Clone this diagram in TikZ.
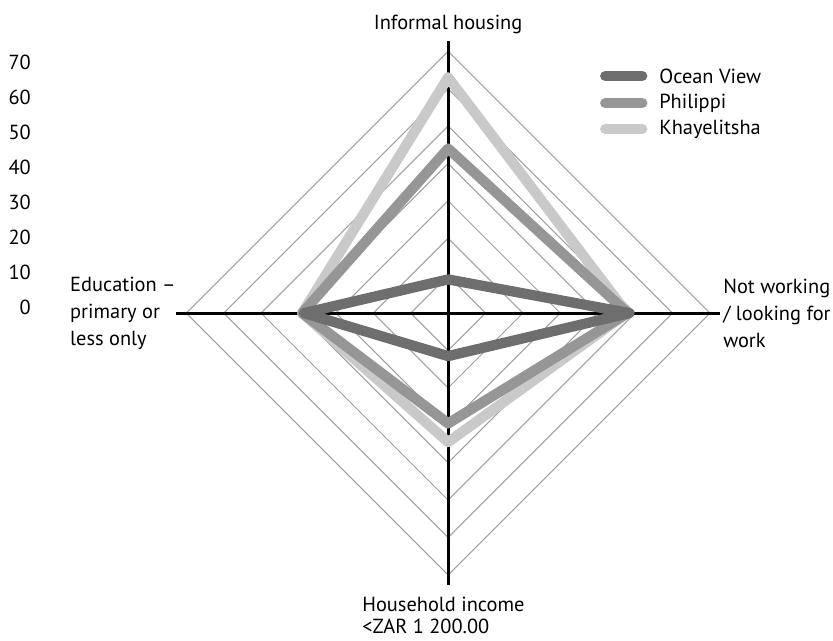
\documentclass[tikz,border=0pt]{standalone}
\usepackage{fontspec}
\setmainfont{PT Sans}
\usepackage{tikz}
\usetikzlibrary{arrows,shapes}
\definecolor{oceanview}{gray}{0.43}
\definecolor{philippi}{gray}{0.59}
\definecolor{khayelitsha}{gray}{0.79}
\tikzstyle{ring}=[draw,gray!75,line width=0.8pt]
\tikzstyle{axis}=[draw,black,line width=2.2pt]
\tikzstyle{series}=[draw,line width=7.8pt,line join=round,line cap=round]
\tikzstyle{axislabel}=[font=\fontsize{15.5}{20.5}\selectfont,align=left,inner sep=0pt]
\tikzstyle{ticklabel}=[font=\fontsize{15.5}{17}\selectfont,anchor=east,inner sep=0pt]
\tikzstyle{legendtext}=[font=\fontsize{15.5}{17}\selectfont,anchor=west,inner sep=0pt]

\begin{document}
\begin{tikzpicture}
        \useasboundingbox (-11.98,-8.74) rectangle (10.29,8.37);
        % axis ends
        \coordinate (n) at (0,7.27);
        \coordinate (e) at (7.27,0);
        \coordinate (s) at (0,-7.27);
        \coordinate (w) at (-7.27,0);
        % rings
        \draw[ring] (0,1) -- (1,0) -- (0,-1) -- (-1,0) -- cycle;
        \draw[ring] (0,2) -- (2,0) -- (0,-2) -- (-2,0) -- cycle;
        \draw[ring] (0,3) -- (3,0) -- (0,-3) -- (-3,0) -- cycle;
        \draw[ring] (0,4) -- (4,0) -- (0,-4) -- (-4,0) -- cycle;
        \draw[ring] (0,5) -- (5,0) -- (0,-5) -- (-5,0) -- cycle;
        \draw[ring] (0,6) -- (6,0) -- (0,-6) -- (-6,0) -- cycle;
        \draw[ring] (0,7) -- (7,0) -- (0,-7) -- (-7,0) -- cycle;
        \draw[axis] (n) -- (s);
        \draw[axis] (w) -- (e);
        % data points
        \coordinate (kh-n) at (0,6.3);
        \coordinate (kh-e) at (4.78,0);
        \coordinate (kh-s) at (0,-3.45);
        \coordinate (kh-w) at (-3.9,0);
        \coordinate (ph-n) at (0,4.4);
        \coordinate (ph-e) at (4.8,0);
        \coordinate (ph-s) at (0,-2.95);
        \coordinate (ph-w) at (-3.9,0);
        \coordinate (ov-n) at (0,0.9);
        \coordinate (ov-e) at (4.85,0);
        \coordinate (ov-s) at (0,-1.15);
        \coordinate (ov-w) at (-3.85,0);
        \draw[series,khayelitsha] (kh-n) -- (kh-e) -- (kh-s) -- (kh-w) -- cycle;
        \draw[series,philippi] (ph-n) -- (ph-e) -- (ph-s) -- (ph-w) -- cycle;
        \draw[series,oceanview] (ov-n) -- (ov-e) -- (ov-s) -- (ov-w) -- cycle;
        % axis labels
        \node[axislabel] (housing) at (0,7.72) {Informal housing};
        \node[axislabel,anchor=west] (work) at (7.35,0) {Not working\\/ looking for\\work};
        \node[axislabel,anchor=west,font=\fontsize{15.5}{16.5}\selectfont] (income) at (-2.30,-8.08) {Household income\\<ZAR 1 200.00};
        \node[axislabel,anchor=west] (education) at (-10.11,0) {Education –\\primary or\\less only};
        % scale
        \node[ticklabel] (t70) at (-11.15,6.71) {70};
        \node[ticklabel] (t60) at (-11.15,5.78) {60};
        \node[ticklabel] (t50) at (-11.15,4.84) {50};
        \node[ticklabel] (t40) at (-11.15,3.90) {40};
        \node[ticklabel] (t30) at (-11.15,2.97) {30};
        \node[ticklabel] (t20) at (-11.15,2.03) {20};
        \node[ticklabel] (t10) at (-11.15,1.10) {10};
        \node[ticklabel] (t0) at (-11.15,0.16) {0};
        % legend
        \coordinate (ov-a) at (4.20,6.34);
        \coordinate (ov-b) at (5.19,6.34);
        \coordinate (ph-a) at (4.20,5.61);
        \coordinate (ph-b) at (5.19,5.61);
        \coordinate (kh-a) at (4.20,4.92);
        \coordinate (kh-b) at (5.19,4.92);
        \draw[series,oceanview] (ov-a) -- (ov-b);
        \draw[series,philippi] (ph-a) -- (ph-b);
        \draw[series,khayelitsha] (kh-a) -- (kh-b);
        \node[legendtext] (ov) at (5.64,6.34) {Ocean View};
        \node[legendtext] (ph) at (5.64,5.61) {Philippi};
        \node[legendtext] (kh) at (5.64,4.92) {Khayelitsha};
      \end{tikzpicture}
\end{document}
